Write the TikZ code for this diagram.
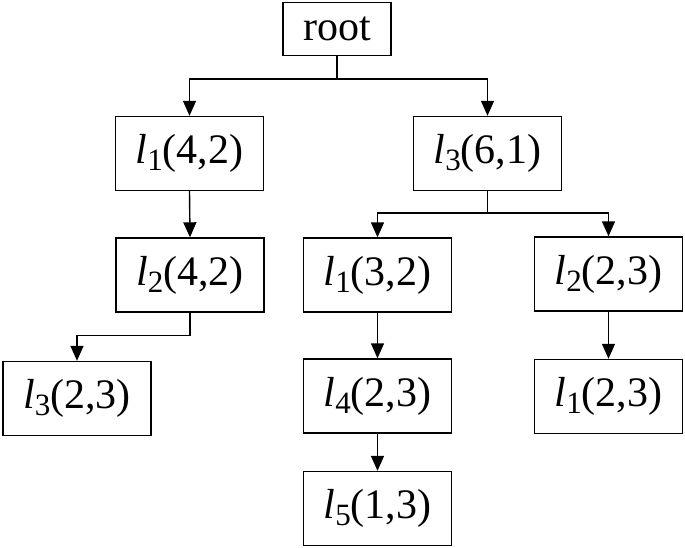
\documentclass[tikz,border=0pt]{standalone}
\usepackage{fontspec}
\setmainfont{Liberation Serif}
\usetikzlibrary{arrows.meta}
\newcommand{\lab}[2]{\textit{l}\lower7pt\hbox{\fontsize{31}{31}\selectfont #1}(#2)}
\tikzset{
  box/.style={draw, line width=1.4pt, minimum width=148pt, minimum height=74pt, inner sep=0pt, font=\fontsize{42}{42}\selectfont},
  rootbox/.style={box, minimum width=108pt, minimum height=53pt},
  arr/.style={line width=1.4pt, -{Triangle[width=13pt,length=15pt]}}
}
\begin{document}
\begin{tikzpicture}[x=1pt,y=-1pt]
\useasboundingbox (0,0) rectangle (685,548);
\node[rootbox] (root) at (337,29) {root};
\node[box] (l1a) at (189.5,153.5) {\lab{1}{4,2}};
\node[box] (l3a) at (487.5,153.5) {\lab{3}{6,1}};
\node[box] (l2a) at (190,275) {\lab{2}{4,2}};
\node[box] (l3b) at (77,398.5) {\lab{3}{2,3}};
\node[box] (l1b) at (377.5,275) {\lab{1}{3,2}};
\node[box] (l2b) at (608.5,274) {\lab{2}{2,3}};
\node[box] (l4) at (377.5,396) {\lab{4}{2,3}};
\node[box] (l1c) at (608.5,396.5) {\lab{1}{2,3}};
\node[box] (l5) at (377.5,508.5) {\lab{5}{1,3}};
\draw[arr] (root.south) -- ++(0,23) -| (l1a.north);
\draw[arr] (root.south) -- ++(0,23) -| (l3a.north);
\draw[arr] (l1a.south) -- (l2a.north);
\draw[arr] (l2a.south) -- ++(0,23) -| (l3b.north);
\draw[arr] (l3a.south) -- ++(0,22) -| (l1b.north);
\draw[arr] (l3a.south) -- ++(0,22) -| (l2b.north);
\draw[arr] (l1b.south) -- (l4.north);
\draw[arr] (l4.south) -- (l5.north);
\draw[arr] (l2b.south) -- (l1c.north);
\end{tikzpicture}
\end{document}
